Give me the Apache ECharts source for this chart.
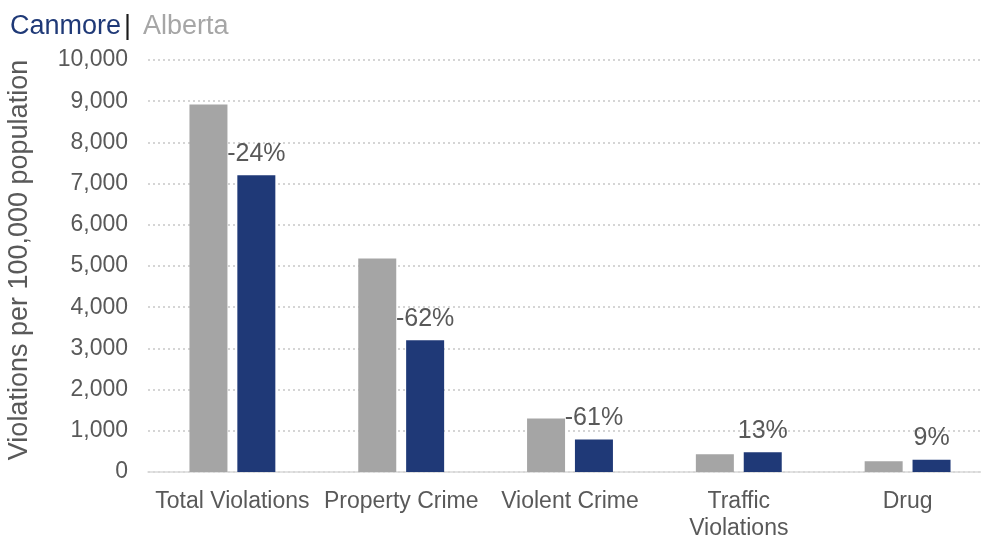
<!DOCTYPE html>
<html>
<head>
<meta charset="utf-8">
<script src="https://cdn.jsdelivr.net/npm/echarts@6/dist/echarts.min.js"></script>
<style>
  html, body { margin: 0; padding: 0; background: #ffffff; }
  #chart { width: 981px; height: 538px; }
</style>
</head>
<body>
<div id="chart"></div>
<script>
// Crime violations per 100,000 population, Canmore compared with Alberta
const categories = ['Total Violations', 'Property Crime', 'Violent Crime', 'Traffic\nViolations', 'Drug'];
const albertaValues = [8920, 5180, 1300, 430, 260];
const canmoreValues = [7200, 3200, 790, 480, 300];
const differenceLabels = ['-24%', '-62%', '-61%', '13%', '9%'];
const yTicks = [0, 1000, 2000, 3000, 4000, 5000, 6000, 7000, 8000, 9000, 10000];

const FONT = '"Liberation Sans", Arial, sans-serif';
const TEXT = '#595959';
const ALBERTA = '#a5a5a5';
const CANMORE = '#1f3977';

const chart = echarts.init(document.getElementById('chart'), null, { renderer: 'canvas' });

chart.setOption({
  animation: false,
  backgroundColor: '#ffffff',
  textStyle: { fontFamily: FONT },
  title: {
    left: 5,
    top: 8,
    text: '{c|Canmore}{s||}{a|Alberta}',
    textStyle: {
      fontWeight: 'normal',
      rich: {
        c: { color: CANMORE, fontSize: 27, fontWeight: 'normal', fontFamily: FONT },
        s: { color: '#1a1a1a', fontSize: 27, fontWeight: 'normal', fontFamily: FONT, padding: [0, 12, 0, 3] },
        a: { color: '#a6a6a6', fontSize: 27, fontWeight: 'normal', fontFamily: FONT }
      }
    }
  },
  grid: {
    left: 148, top: 60, width: 844, height: 412,
    containLabel: false,
    outerBoundsMode: 'none'
  },
  xAxis: {
    type: 'category',
    data: categories,
    axisTick: { show: false },
    axisLine: { lineStyle: { color: '#d9d9d9', width: 1.5 } },
    axisLabel: {
      color: TEXT,
      fontSize: 23,
      fontFamily: FONT,
      margin: 16,
      lineHeight: 27,
      interval: 0
    }
  },
  yAxis: {
    type: 'value',
    min: yTicks[0],
    max: yTicks[yTicks.length - 1],
    interval: yTicks[1] - yTicks[0],
    name: 'Violations per 100,000 population',
    nameLocation: 'middle',
    nameGap: 115,
    nameTextStyle: { color: TEXT, fontSize: 27, fontFamily: FONT, padding: [0, 0, 0, 12] },
    axisLine: { show: false },
    axisTick: { show: false },
    axisLabel: {
      color: TEXT,
      fontSize: 23,
      fontFamily: FONT,
      margin: 20,
      formatter: v => v.toLocaleString('en-US')
    },
    splitLine: { lineStyle: { color: '#c8c8c8', type: [2, 3], width: 1.5 } }
  },
  series: [
    {
      name: 'Alberta',
      type: 'bar',
      data: albertaValues,
      barWidth: 38,
      barGap: '26%',
      itemStyle: { color: ALBERTA },
      z: 2
    },
    {
      name: 'Canmore',
      type: 'bar',
      data: canmoreValues,
      barWidth: 38,
      itemStyle: { color: CANMORE },
      label: {
        show: true,
        position: 'top',
        distance: 9,
        color: TEXT,
        fontSize: 25,
        fontFamily: FONT,
        formatter: p => differenceLabels[p.dataIndex]
      },
      z: 2
    }
  ]
});
</script>
</body>
</html>
